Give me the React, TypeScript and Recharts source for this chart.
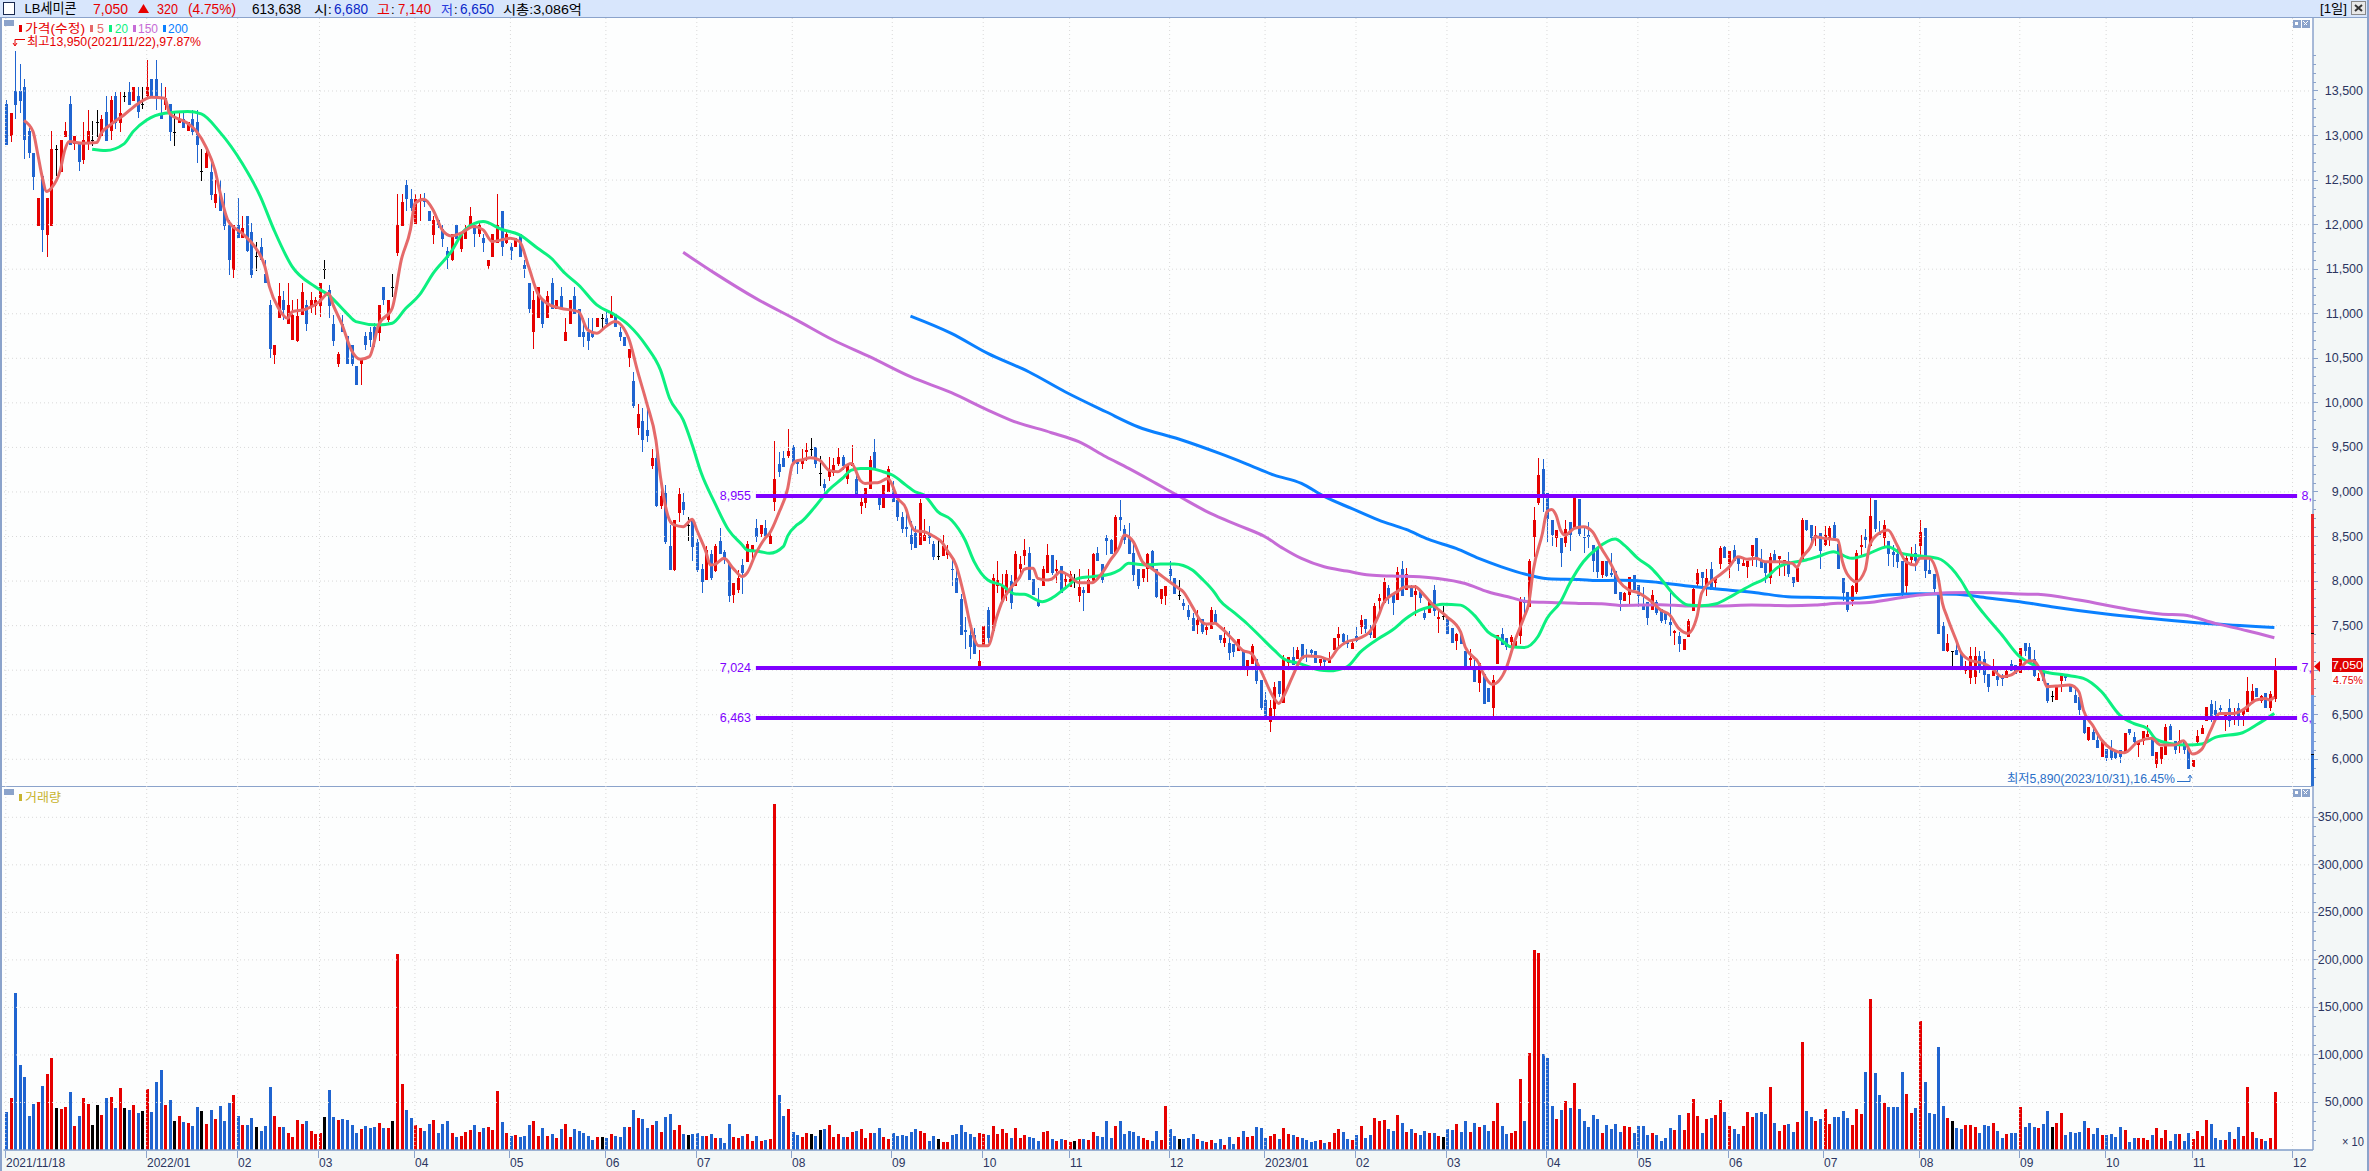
import React from "react";
import { ComposedChart, Bar, Line, XAxis, YAxis, ReferenceLine } from "recharts";

// ---------- candles: [open, close, high, low] ----------
const candles2021 = [
[13350,12890,13400,12890],[12990,13250,13250,12930],[13500,13340,13950,13190],[13500,13390,13800,13250],[13540,12950,13640,12740],[13050,12800,13080,12740],[12800,12540,12800,12390],[11990,12300,12300,11990],[12550,11940,12550,11700],[11880,12300,12300,11640],
[11990,12850,13050,11990],[12850,12850,12890,12540],[12590,12950,12950,12590],[12980,13050,13150,12980],[13350,12890,13440,12890],[12900,12990,13000,12840],[12930,12700,12930,12600],[12730,12950,13150,12680],[12900,13050,13290,12840],[12950,12950,13160,12880],
[13150,13150,13290,12990],[12990,13190,13230,12990],[13260,12940,13440,12940],[13050,13400,13440,12950],[13440,13140,13490,13070],[13140,13250,13490,13040],[13440,13440,13490,13380],[13490,13340,13600,13340],[13390,13540,13540,13390],[13440,13260,13540,13190],
[13350,13350,13540,13290],[13440,13540,13850,13440],[13640,13440,13640,13440],[13640,13440,13850,13290],[13250,13190,13590,13190],[13340,13420,13540,13280],[13350,13040,13350,12930],[13040,13040,13250,12880],[13140,13190,13250,13140],[13190,13090,13250,13090],
[13050,13150,13150,13050],[13190,13040,13290,13000],[13150,12890,13290,12700],[12600,12600,12850,12490],[12640,12800,12850,12640],[12590,12330,12730,12280],[12240,12340,12500,12190],[12340,12150,12500,12150],[12160,11980,12350,11940],[12000,11600,12050,11430],
];
const candles2022a = [
[11490,12000,12000,11400],[12000,11850,12300,11850],[11850,11960,12100,11850],[12100,11700,12100,11700],[11920,11440,12020,11400],[11650,11650,11810,11490],[11750,11600,11850,11600],[11450,11340,11600,11340],[11100,10600,11150,10500],[10540,10650,10650,10440],
[10950,11200,11340,10950],[11150,11040,11260,10940],[10890,11100,11340,10890],[10700,10990,11150,10700],[10690,10970,11170,10690],[10990,11240,11340,10990],[11100,10880,11150,10800],[11090,11150,11240,11000],[11090,11150,11190,10990],[11090,11340,11340,10960],
[11500,11500,11600,11390],[11270,11090,11320,10950],[10890,10690,10990,10640],[10440,10550,10570,10400],[10890,10800,10990,10800],[10750,10440,10750,10440],[10650,10440,10650,10410],[10410,10200,10410,10200],[10440,10500,10500,10200],[10750,10650,10790,10590],
[10800,10700,10850,10630],[10850,10700,10900,10630],[10780,11100,11100,10700],[11300,11150,11300,11100],[10930,11150,11150,10900],[11300,11300,11450,11190],[11680,12000,12340,11640],[11990,12250,12340,11990],[12450,12290,12500,12150],[12290,12190,12400,12150],
[12010,12290,12340,12010],[12260,12290,12340,12040],[12290,12250,12350,12190],[12150,12040,12150,12040],[11880,12050,12100,11790],[12050,12000,12050,11960],[11950,11840,12000,11750],[11700,11630,11750,11500],[11600,11900,11900,11600],[12000,11840,12000,11840],
];
const candles2022b = [
[11730,11900,11900,11700],[11840,11950,12000,11840],[11990,12100,12200,11990],[12000,11900,12000,11750],[11900,12000,12030,11860],[11850,11790,11900,11700],[11540,11600,11600,11500],[11640,11900,11900,11640],[11790,12000,12340,11790],[12150,11750,12150,11650],
[11790,11900,11920,11790],[11750,11700,11790,11600],[11750,11850,11850,11750],[11890,11640,11890,11640],[11550,11500,11600,11400],[11340,11050,11340,11000],[10790,11150,11250,10600],[10950,11300,11300,10950],[11150,10880,11150,10840],[10950,11200,11250,10950],
[11340,11050,11400,11050],[11050,11150,11150,11050],[11200,11050,11300,11050],[10690,10790,10950,10690],[10890,11150,11150,10890],[11200,11000,11300,11000],[11050,10740,11050,10740],[10800,10740,10950,10630],[10790,10690,10950,10590],[10790,10740,10950,10720],
[10850,10950,10950,10850],[10950,10950,11000,10840],[10950,10890,11040,10850],[10950,11000,11200,10950],[11000,10850,11000,10850],[10790,10740,10850,10690],[10740,10640,10740,10640],[10500,10600,10600,10400],[10250,9960,10350,9950],[9720,9880,9990,9640],
[9800,9580,9940,9450],[9700,9630,9990,9560],[9290,9380,9480,9260],[9380,8840,9490,8830],[8840,8950,9100,8810],[8990,8440,9080,8420],[8390,8120,8630,8120],[8120,8690,8690,8120],[8760,8980,9050,8670],[8890,8800,8990,8740],
];
const candles2022c = [
[8630,8630,8720,8450],[8670,8380,8670,8220],[8440,8120,8470,8100],[8140,7990,8190,7860],[8010,8350,8390,8010],[8300,8030,8350,8010],[8110,8390,8420,8110],[8450,8300,8590,8300],[8330,8240,8350,8190],[8190,7830,8190,7760],
[7840,7980,7980,7760],[7900,8030,8120,7860],[8180,8090,8250,7860],[8210,8420,8450,8210],[8340,8410,8410,8240],[8600,8490,8700,8440],[8530,8630,8630,8490],[8600,8480,8690,8480],[8420,8510,8560,8420],[8890,9150,9570,8780],
[9310,9220,9450,9170],[9380,9280,9460,9280],[9400,9460,9710,9390],[9500,9310,9530,9310],[9340,9310,9350,9200],[9310,9360,9480,9260],[9450,9470,9550,9350],[9480,9480,9600,9400],[9500,9310,9500,9260],[9210,9210,9400,9060],
[9090,9040,9150,8980],[9170,9230,9390,9120],[9210,9300,9380,9180],[9310,9390,9490,9290],[9390,9290,9410,9240],[9150,9310,9310,9090],[9290,9320,9530,9290],[9150,8950,9210,8940],[8840,8890,8950,8750],[8880,9050,9050,8830],
[9030,9360,9400,9030],[9450,9260,9590,9260],[8950,8850,8950,8790],[8820,9080,9080,8820],[9000,9260,9290,9000],[9050,8890,9120,8890],[8910,8720,8940,8670],[8720,8580,8780,8540],[8610,8580,8780,8500],[8520,8420,8670,8350],
];
const candles2022d = [
[8540,8370,8620,8370],[8400,8880,8920,8400],[8450,8520,8700,8450],[8540,8480,8620,8420],[8420,8270,8450,8240],[8280,8280,8470,8230],[8280,8390,8520,8280],[8290,8350,8400,8240],[8140,8130,8260,7950],[8040,7870,8140,7870],
[7800,7400,7860,7400],[7450,7430,7600,7240],[7400,7260,7530,7130],[7400,7180,7470,7180],[7020,7100,7230,7020],[7280,7500,7500,7280],[7680,7360,7710,7310],[7440,8040,8080,7440],[7950,8010,8230,7870],[7760,7960,8080,7760],
[7870,8080,8120,7770],[8000,7750,8070,7690],[7950,8300,8340,7950],[8140,8190,8280,8050],[8280,8350,8470,8180],[8310,8010,8380,8010],[8020,7840,8020,7840],[7760,7720,7920,7710],[7950,8140,8170,7950],[8090,8290,8420,8090],
[8290,8090,8290,8070],[8110,8130,8240,7980],[8170,7870,8170,7870],[7990,8020,8080,7930],[7930,8080,8110,7930],[8000,8000,8080,7920],[7830,7930,8140,7770],[7900,7870,7930,7660],[7870,8010,8140,7870],[7980,8300,8320,7980],
[8310,8220,8380,8220],[8190,8010,8190,7980],[8480,8450,8520,8300],[8460,8300,8470,8300],[8300,8720,8740,8300],[8720,8690,8910,8560],[8580,8460,8630,8420],[8480,8300,8650,8300],[8320,8070,8420,8010],[8140,7950,8140,7910],
];
const candles2022e = [
[8040,8140,8140,7990],[8140,8300,8320,7990],[8340,8130,8350,8130],[8140,7820,8140,7810],[7800,7910,7910,7740],[7830,7950,7950,7740],[8140,8060,8230,7980],[8030,7850,8030,7850],[7840,7840,8010,7780],[7750,7720,7800,7680],
[7680,7600,7730,7560],[7590,7440,7640,7440],[7510,7560,7680,7410],[7570,7430,7570,7400],[7450,7480,7530,7400],[7460,7680,7710,7460],[7630,7530,7680,7530],[7400,7340,7400,7310],[7310,7360,7490,7260],[7310,7190,7440,7120],
[7290,7200,7290,7140],[7210,7350,7350,7210],[7230,7040,7230,7040],[7040,7110,7110,6930],[7070,7270,7290,7070],[7130,6880,7130,6850],[6890,6570,6890,6550],[6660,6480,6760,6480],[6420,6570,6660,6300],[6560,6810,6870,6490],
[6880,6730,6880,6700],[6630,7130,7170,6630],[7080,7150,7150,7000],[7150,7060,7260,7060],[7130,7230,7260,7130],[7290,7130,7290,7130],[7170,7150,7240,7090],[7230,7190,7240,7150],[7210,7080,7210,7080],[7080,7130,7130,7040],
[7130,7090,7150,7000],[7080,7110,7200,7080],[7230,7360,7360,7230],[7360,7410,7490,7240],[7410,7320,7420,7300],[7330,7290,7390,7240],[7240,7300,7340,7240],[7380,7330,7490,7320],[7490,7560,7620,7410],[7570,7460,7570,7410],
];
const candles2023a = [
[7450,7390,7510,7360],[7360,7720,7750,7360],[7780,7810,7850,7620],[7750,7990,8030,7750],[7920,7810,7960,7750],[7850,7750,7850,7610],[7790,8100,8160,7790],[8140,7830,8220,7830],[7900,8080,8150,7900],[7930,7820,7960,7820],
[7840,7890,7960,7610],[7880,7810,7880,7760],[7640,7580,7670,7560],[7640,7790,7790,7640],[7900,7660,7960,7610],[7570,7600,7660,7410],[7610,7610,7720,7560],[7580,7410,7580,7410],[7470,7310,7470,7310],[7330,7410,7420,7230],
[7390,7290,7430,7290],[7220,7030,7220,7030],[7110,7140,7240,7040],[7010,6870,7110,6870],[6860,7080,7080,6760],[6960,6620,6960,6620],[6800,6640,6800,6640],[6580,6890,6950,6480],[7070,7400,7400,7070],[7410,7280,7470,7280],
[7360,7260,7360,7220],[7320,7370,7400,7170],[7260,7330,7380,7260],[7380,7780,7820,7290],[7790,7750,7820,7610],[7710,8220,8250,7710],[8500,8680,8830,8270],[8880,9190,9380,8850],[9260,8950,9370,8770],[8990,8700,8990,8440],
[8680,8520,8680,8390],[8480,8570,8570,8380],[8480,8310,8480,8160],[8430,8580,8680,8380],[8660,8520,8660,8340],[8600,8930,8930,8600],[8920,8530,8920,8510],[8490,8480,8600,8320],[8520,8500,8660,8370],[8400,8230,8400,8100],
];
const candles2023b = [
[8360,8100,8360,8040],[8070,8230,8230,8040],[8220,8060,8220,8040],[8090,8070,8310,8040],[8110,7860,8110,7860],[7880,7790,7880,7670],[7780,7870,7880,7780],[7840,8050,8050,7720],[8070,7900,8070,7900],[7960,7830,7960,7710],
[7720,7680,7930,7680],[7770,7590,7770,7510],[7670,7840,7900,7670],[7760,7640,7790,7620],[7690,7550,7690,7530],[7650,7560,7650,7510],[7540,7510,7900,7380],[7420,7440,7450,7280],[7380,7290,7430,7200],[7230,7350,7350,7230],
[7370,7550,7570,7370],[7660,7910,7930,7660],[7970,8090,8130,7920],[8100,8030,8100,7900],[7940,8040,8140,7840],[8140,7900,8210,7900],[7980,8040,8040,7900],[8190,8370,8390,8130],[8380,8260,8390,8260],[8190,8340,8340,8040],
[8350,8220,8400,8220],[8260,8190,8260,8110],[8170,8200,8270,8170],[8160,8230,8230,8040],[8280,8400,8400,8160],[8480,8260,8480,8160],[8240,8150,8360,8150],[8200,8090,8200,7970],[8030,8270,8320,7970],[8300,8220,8350,8220],
[8250,8280,8280,8060],[8190,8240,8240,8060],[8230,8080,8330,8050],[8050,7980,8050,7940],[7990,8150,8150,7990],[8240,8690,8710,8240],[8690,8570,8690,8570],[8630,8480,8630,8400],[8490,8520,8620,8400],[8540,8340,8540,8140],
];
const candles2023c = [
[8400,8520,8620,8400],[8480,8600,8620,8390],[8630,8480,8660,8480],[8420,8140,8420,8140],[8040,7870,8040,7780],[7880,7670,7880,7650],[7780,7940,7960,7720],[7880,8310,8350,7860],[8380,8400,8520,8270],[8490,8460,8580,8370],
[8390,8730,8980,8390],[8910,8580,8910,8550],[8550,8520,8670,8520],[8480,8630,8690,8400],[8450,8300,8450,8170],[8330,8290,8400,8150],[8300,8210,8400,8140],[8220,7850,8220,7830],[7940,8260,8310,7840],[8240,8290,8380,8170],
[8320,8230,8420,8120],[8390,8550,8690,8290],[8590,8110,8590,8030],[8120,8080,8270,8080],[8080,7910,8080,7860],[7880,7410,7880,7410],[7500,7220,7540,7210],[7210,7300,7410,7210],[7220,7220,7220,7050],[7230,7170,7300,7170],
[7190,7040,7190,7020],[6990,7030,7100,6950],[6910,7160,7260,6850],[6920,7160,7260,6850],[7160,7020,7220,6970],[7120,6950,7210,6850],[6960,6810,6960,6760],[6940,7020,7130,6940],[6930,6890,7020,6820],[6920,6900,6960,6830],
[6910,6990,7020,6910],[7070,6990,7110,6990],[7060,6960,7060,6960],[6970,7250,7250,6970],[7310,7210,7310,7160],[7260,7110,7300,7110],[7120,6930,7230,6930],[6880,6910,6970,6880],[6980,6880,6980,6880],[6860,6650,6860,6640],
];
const candles2023d = [
[6710,6710,6770,6650],[6670,6830,6830,6660],[6880,6950,6960,6760],[6950,6910,6950,6880],[6820,6760,6840,6760],[6720,6630,6810,6630],[6700,6550,6700,6500],[6450,6290,6450,6280],[6220,6360,6360,6200],[6310,6220,6350,6220],
[6220,6130,6310,6130],[6030,6210,6210,6030],[6120,6010,6120,5990],[6100,6010,6220,6000],[6100,6010,6100,6000],[6100,6030,6100,5950],[6070,6300,6300,6070],[6340,6290,6340,6270],[6250,6190,6310,6190],[6160,6200,6200,6020],
[6200,6320,6320,6160],[6250,6280,6380,6250],[6250,6040,6250,6040],[5950,6080,6080,5900],[6000,6140,6140,5950],[6050,6360,6400,6050],[6370,6220,6400,6220],[6200,6100,6200,6050],[6180,6200,6330,6070],[6210,6100,6220,6060],
[6120,5890,6120,5890],[5910,5990,5990,5910],[6190,6260,6330,6150],[6280,6350,6380,6280],[6430,6590,6590,6430],[6620,6470,6670,6420],[6550,6500,6650,6440],[6570,6550,6610,6510],[6480,6530,6530,6320],[6580,6430,6680,6370],
[6440,6480,6570,6380],[6580,6470,6630,6370],[6500,6550,6550,6370],[6530,6770,6920,6530],[6650,6770,6850,6650],[6800,6700,6800,6700],[6650,6710,6720,6630],[6740,6570,6740,6570],[6570,6730,6770,6550],[6680,7050,7140,6650],
];

// ---------- volumes ----------
const volumes2021 = [
40000,55000,164800,89800,77000,36000,48600,50700,67600,80300,
97000,44400,43300,45400,61200,25300,36000,55000,48600,26400,
47500,37000,55000,56000,44400,65500,44400,42200,47500,39000,
41200,64400,40000,71800,84500,47500,52800,30600,36000,29600,
28500,25300,45400,41200,27500,42200,32700,46500,30600,49600,
58000,36000,26400,26400,33800,24300,20000,25300,66500,36000,
24300,24300,18000,13700,31700,27500,30600,20000,16900,18000,
34800,63400,34800,31700,32700,31700,26400,18000,22200,25300,
23200,24300,28500,23200,23200,30600,206000,69700,42200,33800,
26400,23200,20000,27500,31700,18000,27500,30600,18000,13700,
];
const volumes2022a = [
14800,19000,21100,26400,19000,23200,24300,21100,62300,29600,
18000,14800,15800,13700,14800,26400,30600,14800,23200,14800,
16900,12700,22200,27500,13700,22200,20000,18000,14800,10600,
13700,13700,12700,16900,14800,13700,24300,24300,42200,33800,
32700,23200,26400,30600,19000,34800,38000,21100,26400,16900,
15800,16900,18000,14800,14800,16900,12700,12700,7400,27500,
13700,12700,14800,16900,9500,14800,9500,10600,11600,364000,
58000,36000,43300,19000,15800,13700,18000,16900,14800,21100,
22200,26400,13700,16900,13700,13700,19000,20000,22200,12700,
18000,18000,23200,13700,11600,18000,14800,15800,14800,19000,
];
const volumes2022b = [
22200,20000,18000,9500,14800,11600,8400,8400,15800,16900,
26400,19000,16900,13700,18000,16900,15800,25300,16900,22200,
18000,12700,23200,12700,15800,13700,12700,9500,19000,20000,
11600,9500,11600,10600,8400,9500,11600,11600,10600,19000,
14800,13700,30600,12700,25300,30600,16900,20000,19000,14800,
12700,10600,9500,20000,10600,46500,22200,14800,11600,11600,
12700,16900,11600,9500,8400,10600,7400,11600,5300,13700,
6300,13700,20000,13700,14800,24300,23200,12700,14800,16900,
11600,23200,16900,15800,13700,12700,10600,8400,9500,10600,
7400,8400,18000,22200,19000,11600,10600,15800,25300,12700,
];
const volumes2023a = [
15800,33800,30600,31700,22200,20000,37000,28500,19000,22200,
18000,15800,20000,18000,18000,14800,13700,22200,21100,27500,
19000,30600,19000,28500,24300,26400,20000,30600,49600,25300,
16900,18000,20000,75000,30600,102400,210000,207000,101400,97000,
46500,32700,42200,51700,44400,70800,43300,30600,24300,37000,
32700,18000,26400,22200,27500,19000,25300,24300,18000,25300,
25300,15800,18000,15800,9500,12700,23200,21100,37000,21100,
39100,53900,35900,18000,32700,33800,37000,52800,40100,25300,
22200,16900,25300,40100,34800,39100,40100,38000,66500,28500,
20000,26400,27500,19000,29600,114000,41200,34800,30600,32700,
];
const volumes2023b = [
43300,27500,34800,34800,41200,33800,26400,43300,38000,82400,
158400,81300,58100,49600,45400,45400,45400,82400,59100,39100,
44400,136200,71800,39100,38000,108800,46500,33800,30600,23200,
22200,26400,26400,24300,18000,26400,25300,28500,20000,12700,
16900,18000,18000,45400,24300,28500,24300,23200,27500,41200,
24300,28500,39100,15800,19000,18000,19000,30600,23200,16900,
23200,15800,15800,16900,13700,24300,21100,8400,12700,12700,
12700,10600,15800,23200,12700,21100,9500,16900,16900,9500,
18000,11600,20000,14800,31700,27500,12700,10600,10600,19000,
11600,24300,14800,66500,19000,12700,11600,9500,12700,61300,
];

// ---------- moving averages, [bar index, price] ----------
const ma5Points = [
[4,13168],[6,13044],[7,12801],[8,12539],[9,12371],[10,12408],[12,12614],[13,12839],[14,12932],[17,12913],[20,12921],[21,13026],[23,13119],[26,13231],[29,13355],[32,13430],[35,13418],[36,13250],[40,13138],[42,13044],[44,12876],[46,12614],[47,12390],[49,12034],[52,11903],[55,11735],[57,11529],[58,11305],[60,11062],[62,10949],[63,11024],[66,11050],[69,11136],[71,11230],[72,11099],[74,10874],[76,10594],[78,10489],[80,10519],[82,10874],[85,11062],[87,11604],[89,11941],[90,12240],[92,12285],[94,12165],[96,11941],[98,11873],[100,11903],[103,11978],[105,11941],[107,11810],[111,11847],[113,11810],[115,11529],[117,11230],[119,11118],[122,11062],[126,11024],[128,10818],[130,10781],[132,10856],[134,10912],[137,10725],[139,10350],[141,9995],[143,9583],[144,9172],[146,8685],[147,8630],[149,8611],[151,8693],[152,8573],[154,8330],[155,8180],[156,8188],[158,8255],[160,8143],[162,8050],[163,8087],[165,8311],[167,8480],[168,8536],[170,8760],[172,9041],[173,9303],[174,9351],
[175,9358],[177,9384],[179,9358],[181,9246],[183,9227],[185,9302],[186,9320],[188,9126],[189,9096],[191,9103],[192,9107],[194,9152],[195,9077],[196,8946],[198,8815],[199,8647],[200,8565],[202,8554],[204,8505],[206,8430],[207,8349],[209,8181],[211,7788],[212,7545],[214,7275],[216,7275],[218,7601],[219,7750],[221,7919],[223,8042],[224,8132],[225,8143],[226,8143],[227,8031],[229,8012],[230,8020],[232,8106],[234,8057],[236,7982],[239,7982],[241,8080],[243,8237],[245,8386],[246,8517],[248,8442],[250,8218],[252,8143],[254,8068],[256,7993],[258,7919],[259,7881],[261,7713],[263,7545],[264,7518],[266,7526],[267,7490],
[270,7337],[272,7225],[274,7188],[276,7001],[279,6683],[280,6627],[281,6701],[283,6926],[285,7132],[286,7158],[289,7150],[291,7120],[293,7244],[295,7319],[297,7345],[300,7431],[302,7618],[303,7749],[306,7880],[308,7936],[310,7936],[312,7842],[314,7730],[316,7644],[317,7599],[320,7431],[321,7263],[324,7076],[325,6963],[327,6840],[330,7019],[332,7338],[334,7599],[335,7749],[336,8123],[338,8534],[339,8778],[340,8804],[341,8740],[342,8572],[343,8516],[345,8591],[347,8609],[349,8553],[351,8366],[353,8198],[355,7992],[357,7900],[359,7870],[362,7769],[364,7675],[366,7619],[368,7469],[370,7413],[372,7600],[373,7862],[375,7993],[377,8068],[379,8154],[381,8274],[383,8244],[385,8255],[387,8217],[390,8217],[393,8199],[394,8154],[395,8255],[397,8386],[398,8498],[400,8479],[403,8461],[404,8217],[406,8019],[407,7993],[409,8124],[410,8404],[412,8535],[414,8573],[416,8404],[418,8217],[420,8180],[421,8255],[423,8255],[425,8049],[426,7750],[427,7600],[429,7338],[430,7207],[432,7114],[435,7076],[437,7020],[439,6927],[441,6945],[443,7020],[445,7106],[446,7102],[448,6945],[449,6814],[451,6822],[454,6833],[456,6758],[457,6552],[459,6384],[461,6216],[463,6122],[466,6074],[469,6197],[472,6235],[474,6160],[477,6160],[479,6208],[481,6059],[483,6111],[485,6328],[487,6515],[490,6515],[492,6552],[495,6665],[497,6683],[498,6665],[499,6700],
];
const ma20Points = [
[19,12846],[22,12831],[26,12906],[28,13044],[31,13175],[35,13250],[40,13269],[43,13243],[47,13044],[52,12689],[56,12315],[59,11941],[63,11529],[68,11305],[71,11211],[75,11005],[77,10912],[82,10874],[85,10893],[88,11062],[91,11211],[94,11454],[98,11698],[101,11941],[105,12034],[109,11948],[113,11885],[117,11735],[120,11623],[123,11454],[126,11323],[130,11099],[134,10987],[137,10874],[141,10631],[144,10370],[146,10051],[149,9808],[151,9527],[153,9209],[156,8873],[159,8573],[162,8405],[163,8349],[166,8330],[168,8311],[171,8386],[172,8507],[174,8630],[175,8666],[178,8834],[181,9021],[184,9152],[186,9246],[188,9264],[190,9264],[193,9227],[195,9190],[198,9077],[200,9002],[202,8965],[203,8910],[205,8779],[208,8686],[211,8461],[213,8218],[216,8012],[219,7956],[222,7855],[224,7851],[228,7769],[230,7806],[233,7919],[236,8031],[239,8050],[243,8080],[245,8124],[247,8199],[251,8181],[254,8192],[257,8192],[261,8124],[263,8031],[266,7863],[267,7786],
[270,7655],[273,7524],[276,7375],[279,7225],[281,7132],[285,7068],[289,7001],[291,6993],[295,7038],[298,7206],[302,7356],[305,7450],[308,7580],[311,7674],[314,7719],[316,7741],[320,7730],[323,7618],[326,7431],[329,7338],[331,7262],[334,7255],[337,7375],[339,7581],[342,7768],[344,7973],[347,8217],[350,8366],[354,8471],[356,8404],[359,8254],[362,8143],[364,8030],[367,7843],[370,7731],[373,7724],[376,7742],[380,7843],[384,7956],[387,8030],[390,8161],[392,8199],[396,8236],[399,8281],[402,8330],[406,8255],[409,8292],[414,8386],[417,8311],[421,8281],[425,8255],[428,8143],[430,8012],[432,7843],[435,7640],[439,7400],[443,7151],[446,7058],[448,6988],[453,6945],[457,6908],[461,6758],[465,6496],[468,6403],[471,6347],[473,6223],[476,6178],[480,6160],[483,6171],[486,6246],[492,6298],[495,6384],[497,6448],[499,6515],
];
const ma150Points = [
[149,11689],[156,11453],[165,11172],[174,10929],[182,10705],[190,10518],[199,10293],[208,10114],[216,9919],[221,9807],[230,9665],[236,9564],[242,9395],[247,9264],[253,9096],[258,8954],[265,8759],[271,8628],[277,8497],[281,8366],[285,8254],[290,8160],[295,8112],[300,8067],[305,8056],[311,8048],[315,8029],[321,7973],[326,7880],[331,7816],[335,7768],[340,7760],[346,7749],[351,7745],[355,7727],[364,7735],[370,7720],[377,7720],[384,7731],[392,7724],[398,7731],[403,7750],[409,7757],[416,7806],[421,7843],[427,7870],[432,7873],[437,7870],[443,7855],[447,7851],[456,7787],[467,7682],[474,7630],[479,7619],[486,7525],[493,7443],[499,7364],
];
const ma200Points = [
[199,10974],[208,10780],[216,10555],[225,10349],[233,10125],[242,9900],[249,9732],[258,9594],[267,9432],[273,9313],[279,9189],[285,9096],[290,8950],[296,8815],[302,8684],[308,8579],[313,8467],[319,8366],[324,8254],[329,8160],[335,8067],[340,8022],[346,8018],[350,8007],[355,8008],[362,7993],[370,7944],[377,7907],[385,7870],[392,7825],[399,7817],[407,7806],[414,7843],[421,7858],[429,7851],[436,7810],[443,7769],[450,7712],[462,7630],[477,7555],[486,7518],[499,7480],
];

// ---------- levels and tick labels ----------
const levelValues = [8955, 7024, 6463];
const levelLabels = ["8,955", "7,024", "6,463"];
const levelCut = ["8,", "7,", "6,"];
const levelSpan = [165, 504];
const monthIndexes = [0,31,51,69,90,111,132,152,173,195,215,234,256,277,297,317,339,359,379,400,421,443,462,481,503];
const monthLabels = ["2021/11/18","2022/01","02","03","04","05","06","07","08","09","10","11","12","2023/01","02","03","04","05","06","07","08","09","10","11","12"];
const priceTicks = Array.from({ length: 82 }, (_, k) => 5800 + k * 100);
const volumeTicks = Array.from({ length: 36 }, (_, k) => 10000 + k * 10000);
const priceLabelled = priceTicks.filter((v) => v >= 6000 && v <= 13500 && v % 500 === 0);
const priceHiddenLabel = 7000; // covered by the current-price tag in the reference
const volumeLabelled = volumeTicks.filter((v) => v % 50000 === 0);

const candles = [...candles2021, ...candles2022a, ...candles2022b, ...candles2022c, ...candles2022d, ...candles2022e, ...candles2023a, ...candles2023b, ...candles2023c, ...candles2023d];
const volumes = [...volumes2021, ...volumes2022a, ...volumes2022b, ...volumes2023a, ...volumes2023b];
const toMap = (pts: number[][]) => new Map(pts.map((p) => [p[0], p[1]]));
const m5 = toMap(ma5Points), m20 = toMap(ma20Points), m150 = toMap(ma150Points), m200 = toMap(ma200Points);

const RED = "#e60000", BLUE = "#1f64d0", BLACK = "#000000";
const rows = Array.from({ length: 508 }, (_, i) => {
  const k = candles[i];
  const row: any = { i, ma5: m5.get(i) ?? null, ma20: m20.get(i) ?? null, ma150: m150.get(i) ?? null, ma200: m200.get(i) ?? null };
  if (k) {
    const [o, c, h, l] = k;
    row.o = o; row.c = c; row.h = h; row.l = l;
    row.range = [l, h];
    row.volume = volumes[i];
    row.color = c > o ? RED : c < o ? BLUE : BLACK;
  }
  levelValues.forEach((v, n) => { if (i === levelSpan[0] || i === levelSpan[1]) row["lv" + n] = v; });
  return row;
});

const CandleShape = (p: any) => {
  const { x, y, width, height, payload } = p;
  if (!payload || payload.o == null) return null;
  const { o, c, h, l, color } = payload;
  const k = h > l ? height / (h - l) : 0;
  const yOf = (v: number) => y + (h - v) * k;
  const cx = Math.round(x + width / 2);
  const top = Math.round(yOf(Math.max(o, c)));
  const bot = Math.round(yOf(Math.min(o, c)));
  return (
    <g shapeRendering="crispEdges">
      <rect x={cx} y={Math.round(y)} width={1} height={Math.max(1, Math.round(height))} fill={color} />
      <rect x={cx - 1} y={top} width={3} height={Math.max(1, bot - top)} fill={color} />
    </g>
  );
};
const VolumeShape = (p: any) => {
  const { x, y, width, height, payload } = p;
  if (!payload || payload.volume == null) return null;
  return <rect x={Math.round(x + width / 2) - 1} y={Math.round(y)} width={3} height={Math.round(height)} fill={payload.color} shapeRendering="crispEdges" />;
};

const FONT = "'Liberation Sans','Noto Sans CJK KR',sans-serif";
const AXIS_X = 2313;
const AXIS_TEXT = "#2b3560";
const GRID = "#d9d9d9";
const EDGE = "#8ba3cb";

const PriceTick = (p: any) => {
  const v = p.payload.value;
  const major = v % 500 === 0;
  return (
    <g>
      <line x1={AXIS_X} x2={AXIS_X + (major ? 5 : 3)} y1={p.y} y2={p.y} stroke={EDGE} shapeRendering="crispEdges" />
      {major && v >= 6000 && v <= 13500 && v !== priceHiddenLabel ? <text x={2363} y={p.y + 4} textAnchor="end" fontSize={12.5} fontFamily={FONT} fill={AXIS_TEXT}>{v.toLocaleString("en-US")}</text> : null}
    </g>
  );
};
const VolTick = (p: any) => {
  const v = p.payload.value;
  const major = v % 50000 === 0;
  return (
    <g>
      <line x1={AXIS_X} x2={AXIS_X + (major ? 5 : 3)} y1={p.y} y2={p.y} stroke={EDGE} shapeRendering="crispEdges" />
      {major ? <text x={2363} y={p.y + 4} textAnchor="end" fontSize={12.5} fontFamily={FONT} fill={AXIS_TEXT}>{v.toLocaleString("en-US")}</text> : null}
    </g>
  );
};
const MonthTick = (p: any) => {
  const n = monthIndexes.indexOf(p.payload.value);
  const x = Math.round(p.x);
  return (
    <g>
      <line x1={x - 1} x2={x - 1} y1={364} y2={371} stroke={EDGE} shapeRendering="crispEdges" />
      <text x={x} y={380} fontSize={12} fontFamily={FONT} fill={AXIS_TEXT}>{monthLabels[n]}</text>
    </g>
  );
};

const T = ({ x, y, w, c = "#000", s = 12, a, children }: any) => (
  <text x={x} y={y} fill={c} fontSize={s} fontFamily={FONT} textAnchor={a} textLength={w} lengthAdjust={w ? "spacingAndGlyphs" : undefined}>{children}</text>
);
const MiniButtons = ({ y }: any) => (
  <g shapeRendering="crispEdges">
    <rect x={2293} y={y} width={7} height={7} fill="#8ba3cb" stroke="#8ba3cb" />
    <rect x={2295} y={y + 2} width={3} height={3} fill="#fff" />
    <rect x={2302} y={y} width={7} height={7} fill="#8ba3cb" stroke="#8ba3cb" />
    <path d={`M${2303.5} ${y + 1.5}L${2307.5} ${y + 5.5}M${2307.5} ${y + 1.5}L${2303.5} ${y + 5.5}`} stroke="#fff" />
  </g>
);
const box = (left: number, top: number, width: number, height: number, background: string, extra: any = {}) => (
  <div style={{ position: "absolute", left, top, width, height, background, ...extra }} />
);

export default function App() {
  return (
    <div style={{ position: "absolute", left: 0, top: 0, width: 2369, height: 1171, overflow: "hidden", background: "#fdfefe" }}>
      {box(AXIS_X, 18, 56, 1153, "#f3f7f7")}
      {box(0, 1150, 2369, 21, "#f3f7f7")}
      {box(0, 0, 2369, 17, "#d8e6fc")}
      {box(0, 17, 2369, 1, EDGE)}
      {box(0, 786, 2313, 1, EDGE)}
      {box(0, 18, 2, 1153, EDGE)}
      {box(2367, 0, 2, 1171, EDGE)}

      <div style={{ position: "absolute", left: 0, top: 18 }}>
        <ComposedChart width={2369} height={769} data={rows} margin={{ top: 0, right: 0, bottom: 0, left: 3.5 }} barCategoryGap={0}>
          <XAxis dataKey="i" type="category" hide />
          <YAxis orientation="right" width={56} type="number" domain={[5689, 14319]} ticks={priceTicks} interval={0} allowDataOverflow tick={PriceTick} tickLine={false} axisLine={{ stroke: EDGE, strokeWidth: 1.5 }} />
          {priceLabelled.map((v) => <ReferenceLine key={v} y={v} stroke={GRID} strokeDasharray="1 3" />)}
          {monthIndexes.map((v) => <ReferenceLine key={v} x={v} stroke={GRID} strokeDasharray="1 3" />)}
          <Bar dataKey="range" shape={CandleShape} isAnimationActive={false} />
          <Line dataKey="ma200" type="monotone" stroke="#0a80ff" strokeWidth={3} dot={false} connectNulls isAnimationActive={false} />
          <Line dataKey="ma150" type="monotone" stroke="#c66cd6" strokeWidth={3} dot={false} connectNulls isAnimationActive={false} />
          <Line dataKey="ma20" type="monotone" stroke="#0cf080" strokeWidth={3} dot={false} connectNulls isAnimationActive={false} />
          <Line dataKey="ma5" type="monotone" stroke="#e56a6a" strokeWidth={3} dot={false} connectNulls isAnimationActive={false} />
          {levelValues.map((_, n) => <Line key={n} dataKey={"lv" + n} stroke="#7f00ff" strokeWidth={4} dot={false} connectNulls isAnimationActive={false} />)}
        </ComposedChart>
      </div>

      <div style={{ position: "absolute", left: 0, top: 787 }}>
        <ComposedChart width={2369} height={384} data={rows} margin={{ top: 0, right: 0, bottom: 0, left: 3.5 }} barCategoryGap={0}>
          <XAxis dataKey="i" type="category" height={21} ticks={monthIndexes} interval={0} tick={MonthTick} tickLine={false} axisLine={{ stroke: "#7f9cc8", strokeWidth: 1.5 }} />
          <YAxis orientation="right" width={56} type="number" domain={[0, 381880]} ticks={volumeTicks} interval={0} allowDataOverflow tick={VolTick} tickLine={false} axisLine={{ stroke: EDGE, strokeWidth: 1.5 }} />
          {volumeLabelled.map((v) => <ReferenceLine key={v} y={v} stroke={GRID} strokeDasharray="1 3" />)}
          {monthIndexes.map((v) => <ReferenceLine key={v} x={v} stroke={GRID} strokeDasharray="1 3" />)}
          <Bar dataKey="volume" shape={VolumeShape} isAnimationActive={false} />
        </ComposedChart>
      </div>

      {box(2311, 514, 3, 119, "#e8262b")}
      {box(2311, 633, 3, 62, "#ef5c5c")}
      {box(2311, 695, 3, 59, "#7199dd")}
      {box(2311, 754, 3, 32, "#2a6fd0")}
      {box(2311, 633, 3, 1, "#000")}
      {box(2311, 754, 3, 1, "#000")}
      {box(2332, 658, 31, 14, "#e00000")}
      {box(2332, 672, 31, 13, "#ffffff")}

      <svg width={2369} height={1171} style={{ position: "absolute", left: 0, top: 0, pointerEvents: "none" }}>
        <rect x={3.5} y={2.5} width={11} height={12} fill="#fff" stroke="#1a2a50" />
        <T x={24.5} y={13} w={52} s={13.5}>LB세미콘</T>
        <T x={93} y={13.5} w={35} s={14} c={RED}>7,050</T>
        <path d="M138 13L149 13L143.5 4Z" fill={RED} />
        <T x={157} y={13.5} w={21} s={14} c={RED}>320</T>
        <T x={188} y={13.5} w={48} s={14} c={RED}>(4.75%)</T>
        <T x={252} y={13.5} w={49} s={14}>613,638</T>
        <T x={314} y={13.5} w={18} s={13}>시:</T>
        <T x={334} y={13.5} w={34} s={14} c="#0a28c8">6,680</T>
        <T x={377} y={13.5} w={13} s={13} c={RED}>고</T>
        <T x={391} y={13.5} s={13}>:</T>
        <T x={398} y={13.5} w={33} s={14} c={RED}>7,140</T>
        <T x={441} y={13.5} w={12} s={13} c="#2a3cdc">저</T>
        <T x={454} y={13.5} s={13}>:</T>
        <T x={460} y={13.5} w={34} s={14} c="#0a28c8">6,650</T>
        <T x={503} y={13.5} w={79} s={13}>시총:3,086억</T>
        <T x={2320} y={13} w={27} s={13}>[1일]</T>
        <rect x={2351.5} y={1.5} width={14} height={13} fill="#e8e8e8" stroke="#8a8a8a" />
        <path d="M2355 5L2362 11M2362 5L2355 11" stroke="#333" strokeWidth={2} />

        <rect x={4} y={20} width={10} height={6} fill="#8ba3cb" />
        <rect x={19} y={25} width={3} height={7} fill={RED} />
        <T x={25} y={33} w={60} s={12.5} c={RED}>가격(수정)</T>
        <rect x={90} y={25} width={3} height={7} fill="#e56a6a" />
        <T x={97} y={33} w={7} s={12.5} c="#e56a6a">5</T>
        <rect x={109} y={25} width={3} height={7} fill="#0cf080" />
        <T x={115} y={33} w={13} s={12.5} c="#0cf080">20</T>
        <rect x={133} y={25} width={3} height={7} fill="#c66cd6" />
        <T x={138} y={33} w={20} s={12.5} c="#c66cd6">150</T>
        <rect x={163} y={25} width={3} height={7} fill="#0a80ff" />
        <T x={168} y={33} w={20} s={12.5} c="#0a80ff">200</T>
        <path d="M25 39.5H15V45M13 43L15 46L17 43" fill="none" stroke={RED} />
        <T x={27} y={46} w={174} s={12} c={RED}>최고13,950(2021/11/22),97.87%</T>

        <rect x={4} y={789} width={10} height={6} fill="#8ba3cb" />
        <rect x={19} y={794} width={3} height={7} fill="#c8b430" />
        <T x={25} y={802} w={36} s={12.5} c="#c8b430">거래량</T>

        {levelValues.map((v, n) => {
          const y = [500, 672, 722][n];
          return (
            <g key={v}>
              <T x={751} y={y} a="end" s={12.5} c="#7f00ff">{levelLabels[n]}</T>
              <T x={2301.5} y={y} s={12.5} c="#7f00ff">{levelCut[n]}</T>
            </g>
          );
        })}
        <T x={2007} y={783} w={168} s={12} c="#2a6fc8">최저5,890(2023/10/31),16.45%</T>
        <path d="M2177 781.5H2190V776M2188 778L2190 775L2192 778" fill="none" stroke="#2a6fc8" />

        <path d="M2320 661L2314 666.5L2320 672Z" fill={RED} />
        <T x={2363} y={669} a="end" w={31} s={11.5} c="#ffffff">7,050</T>
        <T x={2363} y={684} a="end" w={30} s={11.5} c={RED}>4.75%</T>
        <T x={2342} y={1146} w={22} s={12} c={AXIS_TEXT}>× 10</T>

        <MiniButtons y={20} />
        <MiniButtons y={789} />
      </svg>
    </div>
  );
}
